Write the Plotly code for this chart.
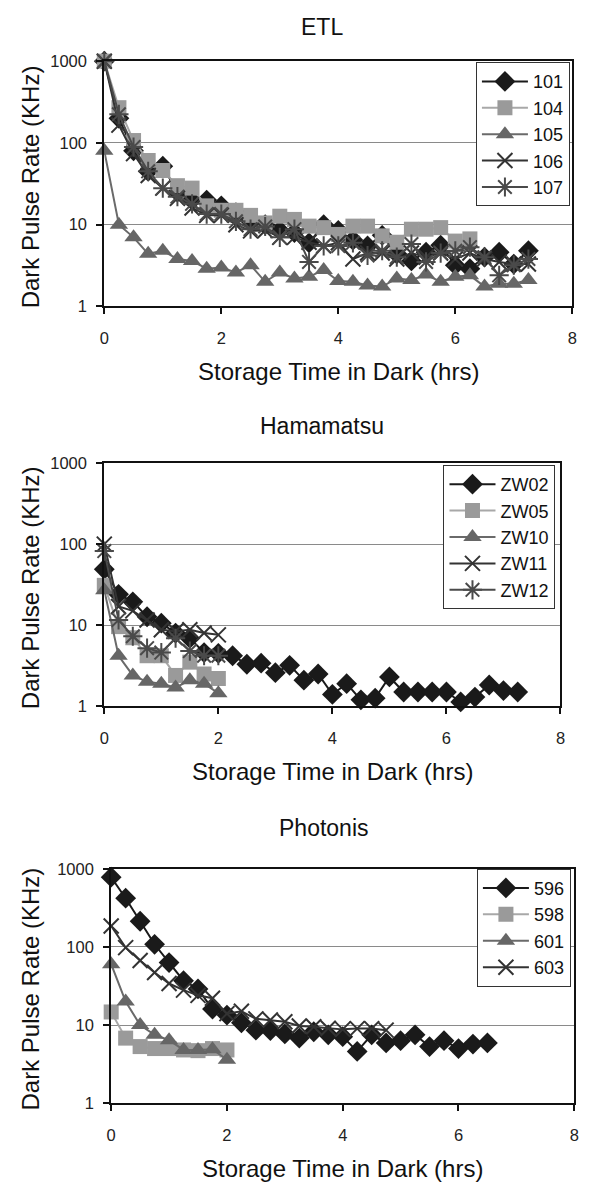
import plotly.graph_objects as go

W, H = 594, 1188
FONT = "Liberation Sans, Arial, sans-serif"

# ---------------- data ----------------
# ETL
etl_101_t = [0, 0.25, 0.5, 0.75, 1.0, 1.25, 1.5, 1.75, 2.0, 2.25, 2.5, 2.75, 3.0, 3.25, 3.5, 3.75, 4.0, 4.25, 4.5, 4.75, 5.0, 5.25, 5.5, 5.75, 6.0, 6.25, 6.5, 6.75, 7.0, 7.25]
etl_101_v = [1000, 200, 80, 45, 52, 25, 20, 20, 17, 14, 11, 10, 8.5, 8, 6, 10, 8.5, 6.5, 5.5, 7.4, 4.4, 3.6, 4.6, 5.6, 3.2, 2.9, 4.0, 4.6, 3.3, 4.8]
etl_104_t = [0, 0.25, 0.5, 0.75, 1.0, 1.25, 1.5, 1.75, 2.0, 2.25, 2.5, 2.75, 3.0, 3.25, 3.5, 3.75, 4.0, 4.25, 4.5, 4.75, 5.0, 5.25, 5.5, 5.75, 6.0, 6.25]
etl_104_v = [1000, 270, 107, 61, 46, 30, 28, 17, 15, 15, 13, 10.5, 12.7, 11.6, 9.6, 9.2, 7.6, 9.6, 9.6, 7.3, 6.1, 8.8, 8.8, 9.2, 6.3, 6.7]
etl_105_t = [0, 0.25, 0.5, 0.75, 1.0, 1.25, 1.5, 1.75, 2.0, 2.25, 2.5, 2.75, 3.0, 3.25, 3.5, 3.75, 4.0, 4.25, 4.5, 4.75, 5.0, 5.25, 5.5, 5.75, 6.0, 6.25, 6.5, 6.75, 7.0, 7.25]
etl_105_v = [80, 10, 7, 4.4, 4.8, 3.8, 3.6, 2.9, 3.0, 2.6, 3.2, 2.0, 2.6, 2.2, 2.3, 2.8, 2.05, 2.0, 1.8, 1.75, 2.2, 2.1, 2.45, 2.0, 2.3, 2.4, 1.75, 1.9, 1.9, 2.1]
etl_106_t = [0, 0.25, 0.5, 0.75, 1.0, 1.25, 1.5, 1.75, 2.0, 2.25, 2.5, 2.75, 3.0, 3.25, 3.5, 3.75, 4.0, 4.25, 4.5, 4.75, 5.0, 5.25, 5.5, 5.75, 6.0, 6.25, 6.5, 6.75, 7.0, 7.25]
etl_106_v = [1000, 165, 74, 40, 28, 21, 16, 13, 13, 10, 8.4, 8.5, 7, 7, 6.1, 5.5, 6, 3.8, 4.5, 4.5, 3.8, 4.5, 4.0, 4.5, 3.8, 4.5, 3.8, 3.5, 3.3, 3.3]
etl_107_t = [0, 0.25, 0.5, 0.75, 1.0, 1.25, 1.5, 1.75, 2.0, 2.25, 2.5, 2.75, 3.0, 3.25, 3.5, 3.75, 4.0, 4.25, 4.5, 4.75, 5.0, 5.25, 5.5, 5.75, 6.0, 6.25, 6.5, 6.75, 7.0, 7.25]
etl_107_v = [1000, 224, 89, 45, 28, 22, 18, 13.5, 13.5, 11, 8.8, 9.5, 7, 8.8, 3.5, 5.5, 5.5, 6, 4.2, 4.8, 4.0, 5.8, 3.5, 4.5, 4.8, 5.3, 4.0, 2.4, 3.2, 3.8]

# Hamamatsu
ham_zw02_t = [0, 0.25, 0.5, 0.75, 1.0, 1.25, 1.5, 1.75, 2.0, 2.25, 2.5, 2.75, 3.0, 3.25, 3.5, 3.75, 4.0, 4.25, 4.5, 4.75, 5.0, 5.25, 5.5, 5.75, 6.0, 6.25, 6.5, 6.75, 7.0, 7.25]
ham_zw02_v = [49, 24, 19.4, 12.7, 10.6, 8, 6.9, 4.6, 4.5, 4.2, 3.3, 3.4, 2.6, 3.2, 2.1, 2.5, 1.4, 1.9, 1.2, 1.26, 2.3, 1.5, 1.5, 1.5, 1.5, 1.13, 1.3, 1.83, 1.56, 1.5]
ham_zw05_t = [0, 0.25, 0.5, 0.75, 1.0, 1.25, 1.5, 1.75, 2.0]
ham_zw05_v = [31, 9.6, 7, 4.2, 4.2, 2.4, 3.5, 2.5, 2.2]
ham_zw10_t = [0, 0.25, 0.5, 0.75, 1.0, 1.25, 1.5, 1.75, 2.0]
ham_zw10_v = [27, 4.2, 2.4, 2.0, 1.9, 1.7, 2.1, 1.9, 1.45]
ham_zw11_t = [0, 0.25, 0.5, 0.75, 1.0, 1.25, 1.5, 1.75, 2.0]
ham_zw11_v = [100, 17, 15, 11.6, 8.8, 8.4, 8.8, 8.0, 7.6]
ham_zw12_t = [0, 0.25, 0.5, 0.75, 1.0, 1.25, 1.5, 1.75, 2.0]
ham_zw12_v = [82, 11.6, 7.3, 5.2, 4.6, 6.9, 4.8, 4.2, 4.2]

# Photonis
pho_596_t = [0, 0.25, 0.5, 0.75, 1.0, 1.25, 1.5, 1.75, 2.0, 2.25, 2.5, 2.75, 3.0, 3.25, 3.5, 3.75, 4.0, 4.25, 4.5, 4.75, 5.0, 5.25, 5.5, 5.75, 6.0, 6.25, 6.5]
pho_596_v = [780, 420, 213, 108, 63, 37, 29, 16, 13.4, 10.7, 8.6, 8.5, 7.7, 6.8, 8.2, 7.5, 7.1, 4.6, 7.5, 5.9, 6.3, 7.5, 5.3, 6.3, 5.0, 5.7, 5.9]
pho_598_t = [0, 0.25, 0.5, 0.75, 1.0, 1.25, 1.5, 1.75, 2.0]
pho_598_v = [14.7, 6.8, 5.3, 5.0, 5.0, 4.8, 4.7, 5.0, 4.8]
pho_601_t = [0, 0.25, 0.5, 0.75, 1.0, 1.25, 1.5, 1.75, 2.0]
pho_601_v = [60, 20, 10, 7.5, 6.4, 4.8, 4.8, 4.9, 3.6]
pho_603_t = [0, 0.25, 0.5, 0.75, 1.0, 1.25, 1.5, 1.75, 2.0, 2.25, 2.5, 2.75, 3.0, 3.25, 3.5, 3.75, 4.0, 4.25, 4.5, 4.75]
pho_603_v = [185, 98, 67, 47, 34, 28, 24, 22, 14, 15, 12, 11.6, 11, 9.7, 9.5, 9.1, 8.8, 9.0, 9.0, 8.6]

y_tickvals = [1, 10, 100, 1000]
y_ticktext = ["1", "10", "100", "1000"]
x_tickvals = [0, 2, 4, 6, 8]

titles = ["ETL", "Hamamatsu", "Photonis"]
x_title = "Storage Time in Dark (hrs)"
y_title = "Dark Pulse Rate (KHz)"

# ---------------- styles ----------------
STY = {
    "diamond": dict(symbol="diamond", color="#1a1a1a", line="#1a1a1a", size=16),
    "square": dict(symbol="square", color="#9a9a9a", line="#a8a8a8", size=15),
    "triangle": dict(symbol="triangle-up", color="#666666", line="#6a6a6a", size=16),
    "x": dict(symbol="x-thin", color="#333333", line="#333333", size=15),
    "star": dict(symbol="asterisk", color="#4a4a4a", line="#4a4a4a", size=16),
}

fig = go.Figure()

def px2fx(p):
    return p / W

def px2fy(p):
    return 1 - p / H

panels = [
    dict(x=(101, 577), y=(53, 302), leg=(479, 54)),
    dict(x=(101, 565), y=(461, 708), leg=(446, 463)),
    dict(x=(108, 579), y=(873, 1111), leg=(480, 873)),
]

series = [
    [("101", etl_101_t, etl_101_v, "diamond"), ("104", etl_104_t, etl_104_v, "square"),
     ("105", etl_105_t, etl_105_v, "triangle"), ("106", etl_106_t, etl_106_v, "x"),
     ("107", etl_107_t, etl_107_v, "star")],
    [("ZW02", ham_zw02_t, ham_zw02_v, "diamond"), ("ZW05", ham_zw05_t, ham_zw05_v, "square"),
     ("ZW10", ham_zw10_t, ham_zw10_v, "triangle"), ("ZW11", ham_zw11_t, ham_zw11_v, "x"),
     ("ZW12", ham_zw12_t, ham_zw12_v, "star")],
    [("596", pho_596_t, pho_596_v, "diamond"), ("598", pho_598_t, pho_598_v, "square"),
     ("601", pho_601_t, pho_601_v, "triangle"), ("603", pho_603_t, pho_603_v, "x")],
]

layout = dict(
    width=W, height=H, margin=dict(l=0, r=0, t=0, b=0),
    paper_bgcolor="white", plot_bgcolor="white",
    font=dict(family=FONT, color="#111111"),
    showlegend=True,
)
annotations = []

for i, (pan, ser) in enumerate(zip(panels, series)):
    n = "" if i == 0 else str(i + 1)
    xa, ya = "x" + n, "y" + n
    leg = "legend" + n
    for k, (name, t, v, st) in enumerate(ser):
        s = STY[st]
        mline = dict(width=2, color=s["color"]) if st in ("x", "star") else dict(width=0)
        fig.add_trace(go.Scatter(
            x=t, y=v, name=name, mode="lines+markers",
            xaxis=xa, yaxis=ya, legend=leg, legendgroup=f"{i}-{k}",
            line=dict(color=s["line"], width=2),
            marker=dict(symbol=s["symbol"], size=s["size"], color=s["color"], line=mline),
            cliponaxis=False,
        ))
    layout["xaxis" + n] = dict(
        domain=[px2fx(pan["x"][0]), px2fx(pan["x"][1])], anchor=ya,
        range=[0, 8], tickvals=x_tickvals, ticks="outside", ticklen=6, tickwidth=1.5,
        tickcolor="#111", showgrid=False, zeroline=False,
        showline=True, linecolor="#111", linewidth=2, mirror=True,
        tickfont=dict(size=16.5, family=FONT, color="#222"), ticklabelstandoff=10,
    )
    layout["yaxis" + n] = dict(
        domain=[px2fy(pan["y"][1]), px2fy(pan["y"][0])], anchor=xa,
        type="log", range=[0, 3], tickvals=y_tickvals, ticktext=y_ticktext,
        ticks="outside", ticklen=6, tickwidth=1.5, tickcolor="#111",
        showgrid=True, gridcolor="#8a8a8a", gridwidth=1, zeroline=False,
        showline=True, linecolor="#111", linewidth=2, mirror=True,
        tickfont=dict(size=16.5, family=FONT, color="#222"), ticklabelstandoff=6,
    )
    layout[leg] = dict(
        x=px2fx(pan["leg"][0]), y=px2fy(pan["leg"][1]), xanchor="left", yanchor="top",
        xref="paper", yref="paper",
        bgcolor="white", bordercolor="#333", borderwidth=1,
        font=dict(size=18, family=FONT, color="#111"),
        itemwidth=46, tracegroupgap=6, traceorder="normal",
    )
    cx = (pan["x"][0] + pan["x"][1]) / 2
    cy = (pan["y"][0] + pan["y"][1]) / 2
    title_y = pan["y"][0] - (35 if i == 0 else (38 if i == 1 else 41))
    annotations.append(dict(text=titles[i], x=px2fx(322 if i < 2 else 324), y=px2fy(title_y),
                            xref="paper", yref="paper", showarrow=False,
                            xanchor="center", yanchor="middle",
                            font=dict(size=23, family=FONT, color="#111")))
    annotations.append(dict(text=x_title, x=px2fx(cx), y=px2fy(pan["y"][1] + 66),
                            xref="paper", yref="paper", showarrow=False,
                            xanchor="center", yanchor="middle",
                            font=dict(size=24, family=FONT, color="#111")))
    annotations.append(dict(text=y_title, x=px2fx(26), y=px2fy(cy + 3),
                            xref="paper", yref="paper", showarrow=False, textangle=-90,
                            xanchor="center", yanchor="middle",
                            font=dict(size=24, family=FONT, color="#111")))

layout["annotations"] = annotations
fig.update_layout(**layout)
fig.write_html("out.html")
